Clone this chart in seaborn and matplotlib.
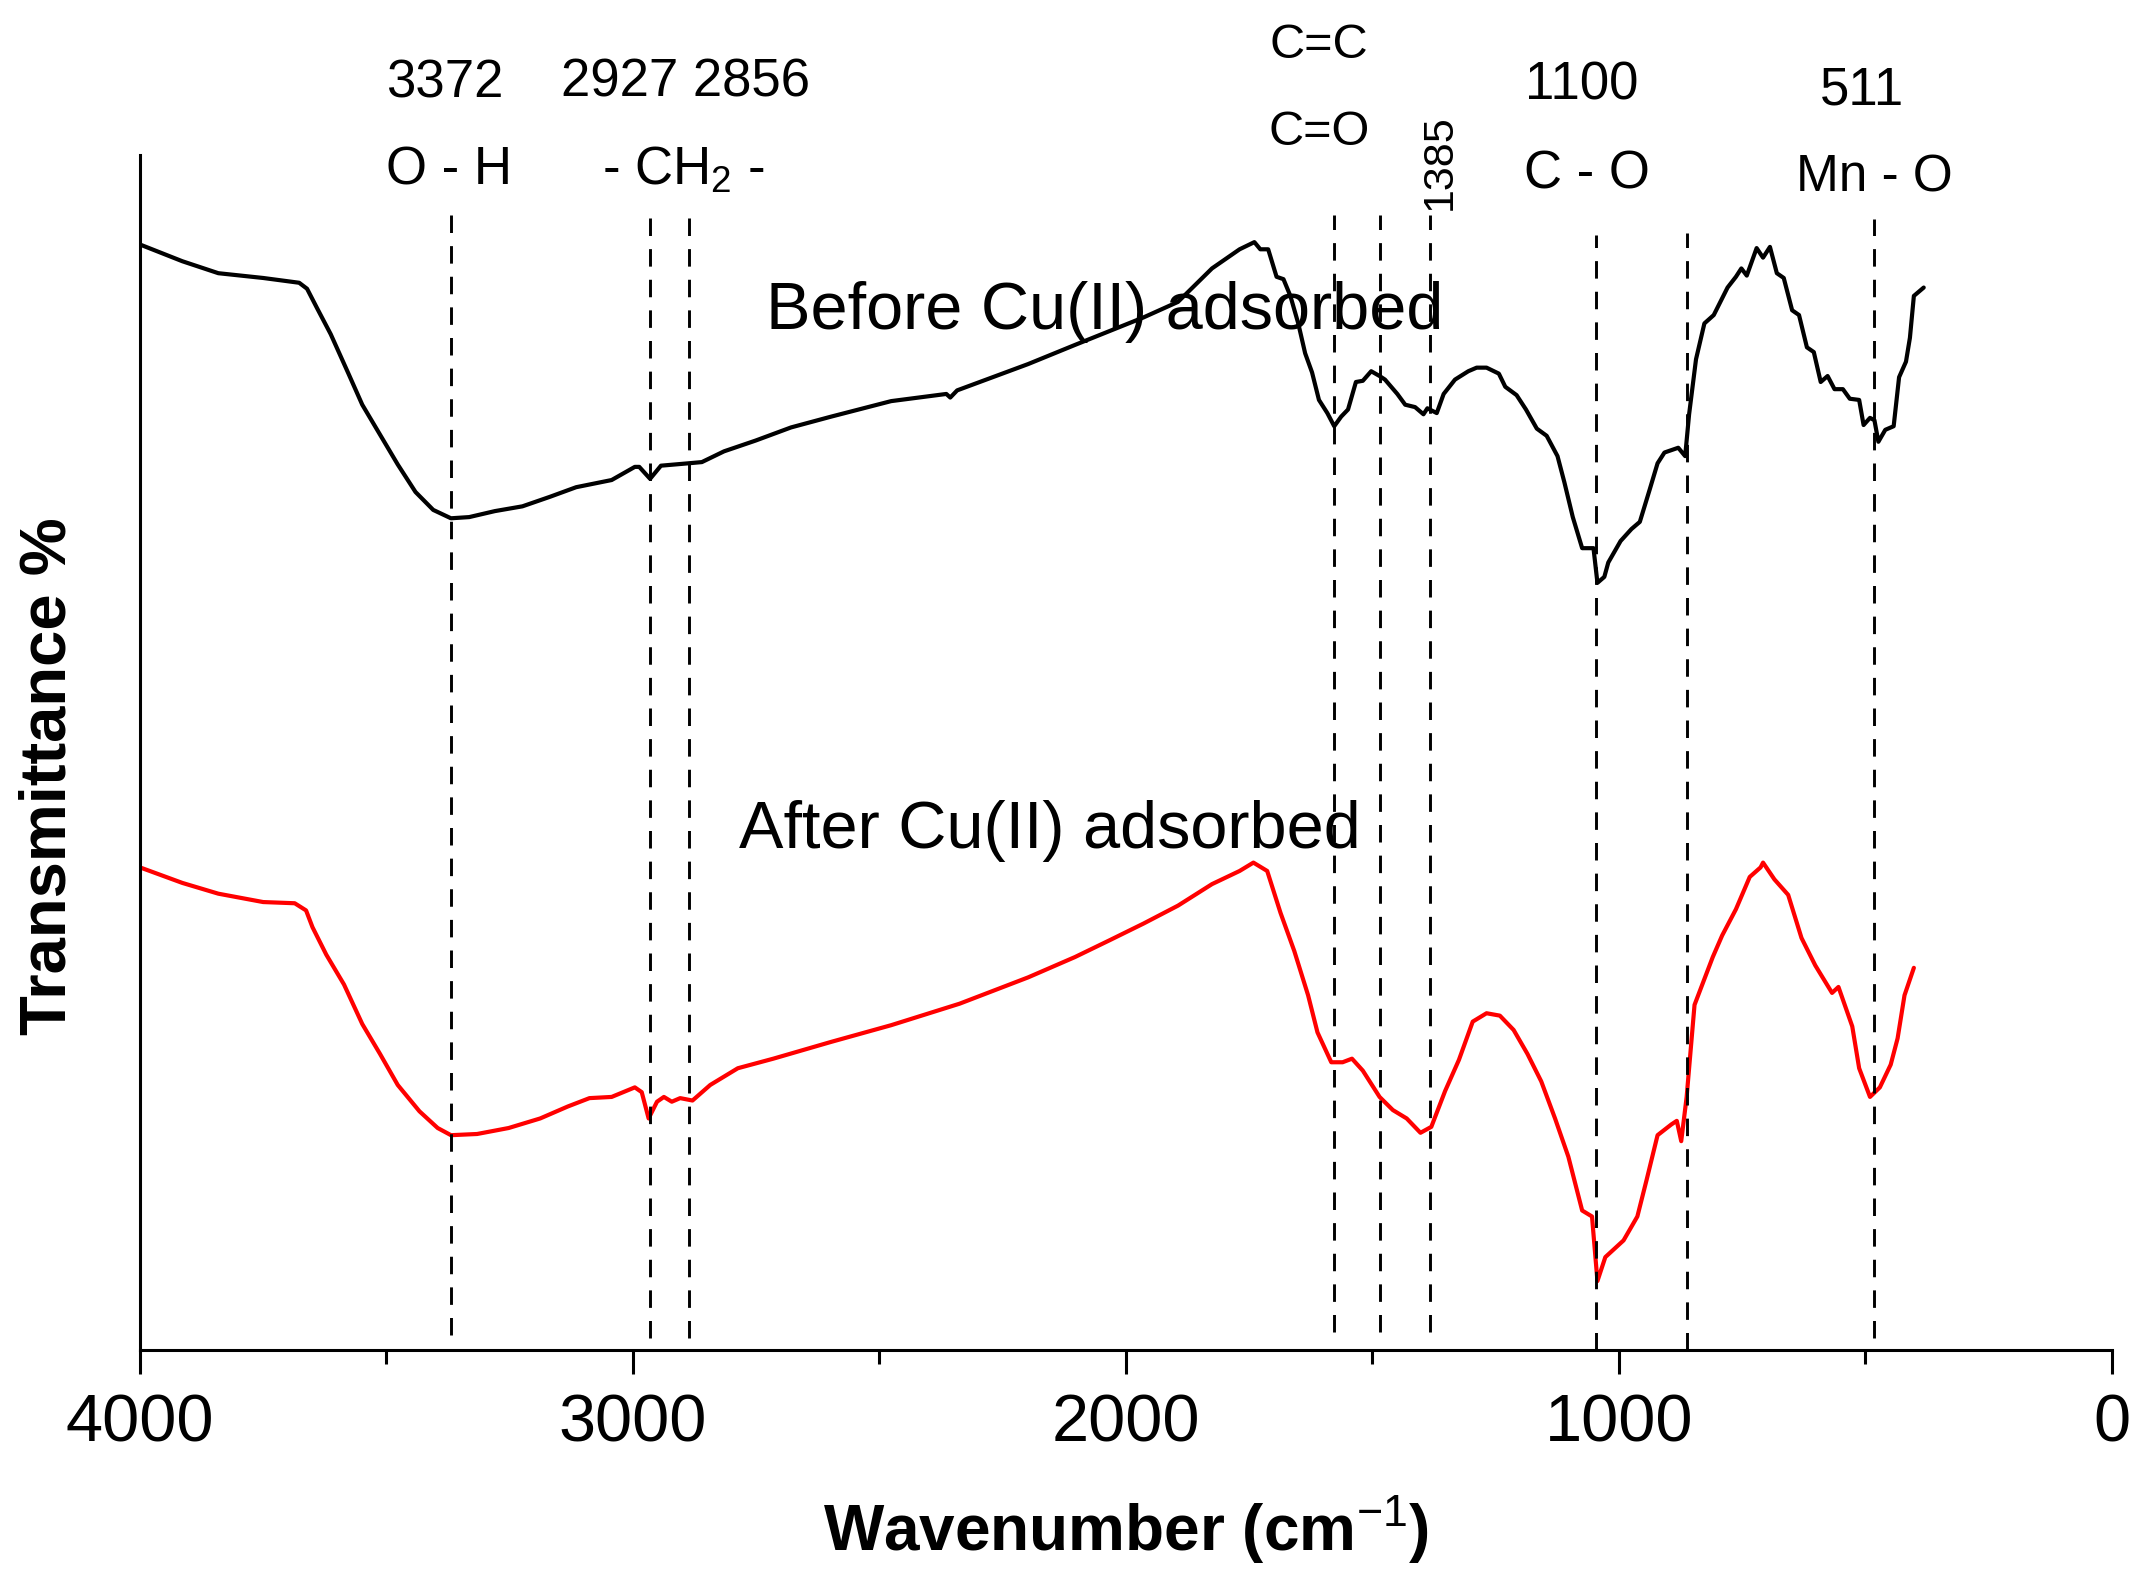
import matplotlib
matplotlib.use("Agg")
import matplotlib.pyplot as plt
import seaborn as sns
import pandas as pd

# FTIR spectra (wavenumber in cm-1, transmittance in arbitrary units 0-100)
before_wn = [4000, 3914, 3841, 3750, 3677, 3661, 3641, 3613, 3577, 3549,
             3513, 3477, 3441, 3405, 3369, 3332, 3280, 3224, 3168, 3115,
             3043, 2996, 2987, 2965, 2943, 2887, 2860, 2815, 2751, 2679,
             2598, 2476, 2364, 2356, 2342, 2198, 2103, 1964, 1894, 1825,
             1769, 1739, 1727, 1711, 1694, 1680, 1666, 1650, 1636, 1622,
             1608, 1591, 1577, 1563, 1549, 1533, 1519, 1502, 1485, 1474,
             1449, 1433, 1413, 1396, 1388, 1369, 1355, 1332, 1305, 1288,
             1268, 1243, 1230, 1207, 1188, 1166, 1146, 1124, 1110, 1093,
             1074, 1051, 1043, 1029, 1021, 996, 974, 957, 937, 921,
             907, 879, 865, 857, 843, 826, 807, 779, 762, 751,
             740, 720, 707, 693, 679, 665, 648, 634, 618, 604,
             590, 576, 562, 545, 531, 512, 503, 490, 481, 473,
             459, 442, 431, 417, 409, 401, 381]
before_t = [92.5, 91.1, 90.1, 89.7, 89.3, 88.8, 87.2, 85.0, 81.7, 79.1,
            76.6, 74.1, 71.8, 70.3, 69.6, 69.7, 70.2, 70.6, 71.4, 72.2,
            72.8, 73.9, 73.9, 72.9, 74.0, 74.2, 74.3, 75.2, 76.1, 77.2,
            78.1, 79.4, 80.0, 79.7, 80.3, 82.5, 84.1, 86.4, 87.7, 90.5,
            92.1, 92.7, 92.1, 92.1, 89.8, 89.6, 88.2, 85.9, 83.4, 81.8,
            79.5, 78.4, 77.3, 78.1, 78.7, 81.0, 81.1, 81.9, 81.5, 81.2,
            80.0, 79.1, 78.9, 78.3, 78.8, 78.4, 80.0, 81.2, 81.9, 82.2,
            82.2, 81.7, 80.6, 79.9, 78.7, 77.1, 76.5, 74.8, 72.6, 69.7,
            67.1, 67.1, 64.2, 64.7, 65.9, 67.7, 68.7, 69.3, 72.0, 74.2,
            75.1, 75.5, 74.8, 78.3, 82.9, 85.9, 86.6, 88.9, 89.8, 90.5,
            89.9, 92.2, 91.4, 92.3, 90.1, 89.7, 87.0, 86.6, 83.9, 83.5,
            81.0, 81.5, 80.4, 80.4, 79.6, 79.5, 77.4, 78.0, 77.8, 76.0,
            77.0, 77.3, 81.4, 82.7, 84.7, 88.2, 88.9]

after_wn = [4000, 3914, 3841, 3750, 3686, 3663, 3650, 3622, 3586, 3549,
            3513, 3477, 3433, 3396, 3369, 3316, 3252, 3188, 3132, 3088,
            3043, 2996, 2982, 2968, 2951, 2937, 2921, 2904, 2879, 2843,
            2787, 2715, 2598, 2476, 2337, 2198, 2103, 2033, 1964, 1894,
            1825, 1769, 1741, 1713, 1686, 1658, 1630, 1611, 1583, 1560,
            1541, 1519, 1485, 1458, 1430, 1402, 1380, 1352, 1324, 1296,
            1268, 1241, 1213, 1185, 1157, 1129, 1102, 1074, 1054, 1043,
            1027, 990, 962, 943, 921, 893, 882, 873, 862, 846,
            809, 790, 762, 734, 712, 707, 684, 656, 629, 601,
            567, 554, 526, 512, 490, 470, 448, 434, 420, 401]
after_t = [40.4, 39.1, 38.2, 37.5, 37.4, 36.8, 35.4, 33.1, 30.6, 27.3,
           24.8, 22.2, 20.0, 18.6, 18.0, 18.1, 18.6, 19.4, 20.4, 21.1,
           21.2, 22.0, 21.6, 19.4, 20.8, 21.2, 20.8, 21.1, 20.9, 22.2,
           23.6, 24.4, 25.8, 27.2, 29.0, 31.2, 32.9, 34.3, 35.7, 37.2,
           39.0, 40.1, 40.8, 40.1, 36.6, 33.4, 29.7, 26.6, 24.1, 24.1,
           24.4, 23.4, 21.2, 20.1, 19.4, 18.2, 18.7, 21.7, 24.3, 27.5,
           28.2, 28.0, 26.8, 24.8, 22.5, 19.4, 16.2, 11.7, 11.2, 5.8,
           7.8, 9.2, 11.2, 14.3, 18.0, 18.9, 19.2, 17.5, 21.2, 28.9,
           32.9, 34.7, 36.9, 39.6, 40.4, 40.8, 39.4, 38.1, 34.5, 32.2,
           29.9, 30.4, 27.1, 23.6, 21.2, 22.0, 23.9, 26.1, 29.7, 32.0]

# dashed marker lines
peak_wn = [3369, 2965, 2887, 1577, 1485, 1382, 1046, 862, 481]
peak_top = [95.1, 94.7, 94.7, 95.0, 95.0, 95.0, 93.3, 93.5, 94.6]
peak_bottom = [1.3, 1.0, 1.0, 1.5, 1.5, 1.5, 0.0, 0.0, 1.0]

# band annotations: text, x (cm-1), baseline y, font size
band_text = ["3372", "2927 2856", "O - H", "- CH$_2$ -", "C=C", "C=O",
             "1100", "C - O", "511", "Mn - O"]
band_x = [3382, 2893, 3374, 2898, 1608, 1608, 1074, 1065, 506, 481]
band_y = [104.8, 104.9, 97.5, 97.5, 108.1, 100.8, 104.6, 97.2, 104.2, 96.9]
band_size = [38, 38, 38, 38, 35, 35, 38, 38, 38, 37]

sns.set_style("ticks")
plt.rcParams["font.family"] = ["Liberation Sans", "DejaVu Sans"]
plt.rcParams["mathtext.fontset"] = "custom"
plt.rcParams["mathtext.rm"] = "Liberation Sans"
plt.rcParams["mathtext.it"] = "Liberation Sans:italic"
plt.rcParams["mathtext.bf"] = "Liberation Sans:bold"
plt.rcParams["text.color"] = "black"
plt.rcParams["axes.labelcolor"] = "black"
plt.rcParams["xtick.color"] = "black"
plt.rcParams["ytick.color"] = "black"

df_before = pd.DataFrame({"wn": before_wn, "t": before_t})
df_after = pd.DataFrame({"wn": after_wn, "t": after_t})

fig = plt.figure(figsize=(21.5, 15.93), dpi=100)
ax = fig.add_axes([0.0651, 0.1523, 0.917, 0.7505])

sns.lineplot(data=df_before, x="wn", y="t", color="black", lw=3.0,
             sort=False, estimator=None, ax=ax)
sns.lineplot(data=df_after, x="wn", y="t", color="#ff0000", lw=3.0,
             sort=False, estimator=None, ax=ax)

ax.vlines(peak_wn, peak_bottom, peak_top, colors="black",
          linestyles=(0, (6, 4.5)), lw=2.1)

for txt, x, y, s in zip(band_text, band_x, band_y, band_size):
    ax.text(x, y, txt, fontsize=s, ha="center", va="baseline", color="black")
ax.text(1363, 99.4, "1385", fontsize=31, rotation=90, ha="center", va="center",
        color="black")

ax.text(2729, 85.4, "Before Cu(II) adsorbed", fontsize=48, ha="left",
        va="baseline", color="black")
ax.text(2784, 42.0, "After Cu(II) adsorbed", fontsize=48, ha="left",
        va="baseline", color="black")

ax.set_xlim(4000, 0)
ax.set_ylim(0, 100)
ax.set_xticks([4000, 3000, 2000, 1000, 0])
ax.set_xticks([3500, 2500, 1500, 500], minor=True)
ax.set_xticklabels(["4000", "3000", "2000", "1000", "0"])
ax.tick_params(axis="x", which="major", length=17, width=2.2, labelsize=48,
               pad=14, direction="out", color="black", labelcolor="black")
ax.tick_params(axis="x", which="minor", length=10, width=2.2, direction="out",
               color="black")
ax.set_yticks([])
sns.despine(ax=ax)
for side in ["left", "bottom"]:
    ax.spines[side].set_linewidth(2.2)
    ax.spines[side].set_color("black")

ax.set_xlabel("Wavenumber (cm$^{-1}$)", fontsize=46, fontweight="bold")
ax.xaxis.set_label_coords(0.5, -0.12)
ax.set_ylabel("Transmittance %", fontsize=47, fontweight="bold")
ax.yaxis.set_label_coords(-0.031, 0.48)

fig.savefig("out.png", dpi=100, facecolor="white")
